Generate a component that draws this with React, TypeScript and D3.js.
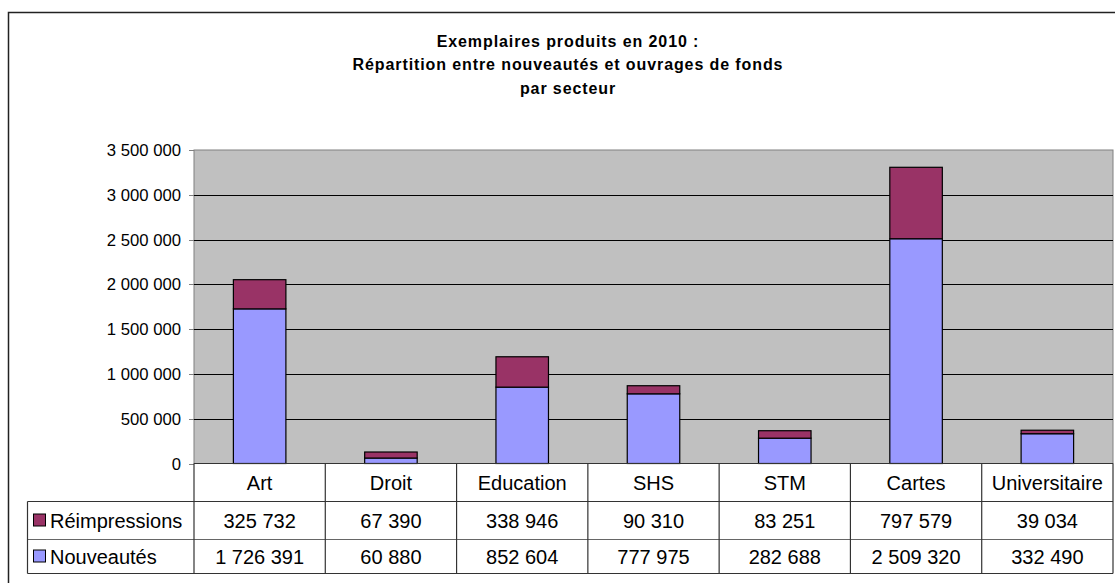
import React from "react";
import * as d3 from "d3";

const categories = ["Art", "Droit", "Education", "SHS", "STM", "Cartes", "Universitaire"];
const nouveautes = [1726391, 60880, 852604, 777975, 282688, 2509320, 332490];
const reimpressions = [325732, 67390, 338946, 90310, 83251, 797579, 39034];
const yTicks = [0, 500000, 1000000, 1500000, 2000000, 2500000, 3000000, 3500000];
const titleLines = [
  "Exemplaires produits en 2010 :",
  "Répartition entre nouveautés et ouvrages de fonds",
  "par secteur",
];

const colors = { nouveautes: "#9999FF", reimpressions: "#993366" };

// french number format: 1 726 391
const fr = d3.formatLocale({ decimal: ",", thousands: " ", grouping: [3], currency: ["", " €"] });
const fmt = fr.format(",d");

const W = 1115,
  H = 583;
const plot = { left: 194, right: 1113, top: 150, bottom: 463.5 };
const rows = { cat: 463.5, reimp: 501.5, nouv: 539.5, end: 573.5 };
const tableLeft = 27.5;

const font = "'Liberation Sans', Arial, sans-serif";

const Txt = ({ x, y, children, anchor = "middle", size = 20, weight = "normal", spacing = 0 }) => (
  <text
    x={x}
    y={y}
    textAnchor={anchor}
    fontSize={size}
    fontWeight={weight}
    letterSpacing={spacing}
    fontFamily={font}
    fill="#000"
  >
    {children}
  </text>
);

export default function App() {
  const data = categories.map((c, i) => ({ cat: c, nouveautes: nouveautes[i], reimpressions: reimpressions[i] }));
  const series = d3.stack().keys(["nouveautes", "reimpressions"])(data as any);

  const y = d3.scaleLinear().domain([0, 3500000]).range([plot.bottom, plot.top]);
  const col = d3.scaleBand().domain(categories).range([plot.left, plot.right]).padding(0);
  const x = d3
    .scaleBand()
    .domain(categories)
    .range([plot.left, plot.right])
    .paddingInner(0.6)
    .paddingOuter(0.3);

  // baseline for text vertically centred in a table row
  const rowMid = (a, b) => (a + b) / 2 + 7;

  return (
    <svg
      width={W}
      height={H}
      style={{ position: "absolute", left: 0, top: 0, background: "#fff" }}
    >
      {/* chart frame, cut at right and bottom like the reference */}
      <rect x={8.5} y={12.5} width={1130} height={590} fill="#fff" stroke="#222" strokeWidth={1.5} />

      {/* title */}
      {titleLines.map((t, i) => (
        <Txt key={i} x={568} y={46.5 + i * 23.7} size={16} weight="bold" spacing={0.9}>
          {t}
        </Txt>
      ))}

      {/* plot area */}
      <rect
        x={plot.left}
        y={plot.top}
        width={plot.right - plot.left}
        height={plot.bottom - plot.top}
        fill="#C0C0C0"
        stroke="#808080"
        strokeWidth={1}
      />
      {yTicks.slice(1, -1).map((t) => (
        <line key={t} x1={plot.left} x2={plot.right} y1={Math.round(y(t)) + 0.5} y2={Math.round(y(t)) + 0.5} stroke="#000" strokeWidth={1} />
      ))}
      {yTicks.map((t) => (
        <g key={"t" + t}>
          <line x1={plot.left - 5} x2={plot.left} y1={Math.round(y(t)) + 0.5} y2={Math.round(y(t)) + 0.5} stroke="#808080" />
          <Txt x={181} y={y(t) + 6} anchor="end" size={16.7}>
            {fmt(t)}
          </Txt>
        </g>
      ))}

      {/* stacked bars */}
      {series.map((s) => (
        <g key={s.key} fill={colors[s.key]}>
          {s.map((d, i) => (
            <rect
              key={i}
              x={x(categories[i])}
              y={y(d[1])}
              width={x.bandwidth()}
              height={y(d[0]) - y(d[1])}
              stroke="#000"
              strokeWidth={1.2}
            />
          ))}
        </g>
      ))}

      {/* data table */}
      <g stroke="#333" strokeWidth={1.2} fill="none">
        <line x1={plot.left} x2={plot.right} y1={rows.cat} y2={rows.cat} />
        <line x1={tableLeft} x2={plot.right} y1={rows.reimp} y2={rows.reimp} />
        <line x1={tableLeft} x2={plot.right} y1={rows.nouv} y2={rows.nouv} stroke="#666" />
        <line x1={tableLeft} x2={plot.right} y1={rows.end} y2={rows.end} />
        <line x1={tableLeft} x2={tableLeft} y1={rows.reimp} y2={rows.end} />
        {categories.map((c) => (
          <line key={c} x1={col(c)} x2={col(c)} y1={rows.cat} y2={rows.end} />
        ))}
        <line x1={plot.right} x2={plot.right} y1={rows.cat} y2={rows.end} />
      </g>
      {categories.map((c, i) => (
        <g key={"c" + c}>
          <Txt x={col(c) + col.bandwidth() / 2} y={rowMid(rows.cat, rows.reimp)}>
            {c}
          </Txt>
          <Txt x={col(c) + col.bandwidth() / 2} y={rowMid(rows.reimp, rows.nouv)}>
            {fmt(reimpressions[i])}
          </Txt>
          <Txt x={col(c) + col.bandwidth() / 2} y={rowMid(rows.nouv, rows.end)}>
            {fmt(nouveautes[i])}
          </Txt>
        </g>
      ))}

      {/* legend keys inside the table */}
      <rect x={33.5} y={rowMid(rows.reimp, rows.nouv) - 13.5} width={12} height={12} fill={colors.reimpressions} stroke="#000" />
      <Txt x={50} y={rowMid(rows.reimp, rows.nouv)} anchor="start">
        Réimpressions
      </Txt>
      <rect x={33.5} y={rowMid(rows.nouv, rows.end) - 13.5} width={12} height={12} fill={colors.nouveautes} stroke="#000" />
      <Txt x={50} y={rowMid(rows.nouv, rows.end)} anchor="start">
        Nouveautés
      </Txt>
    </svg>
  );
}
